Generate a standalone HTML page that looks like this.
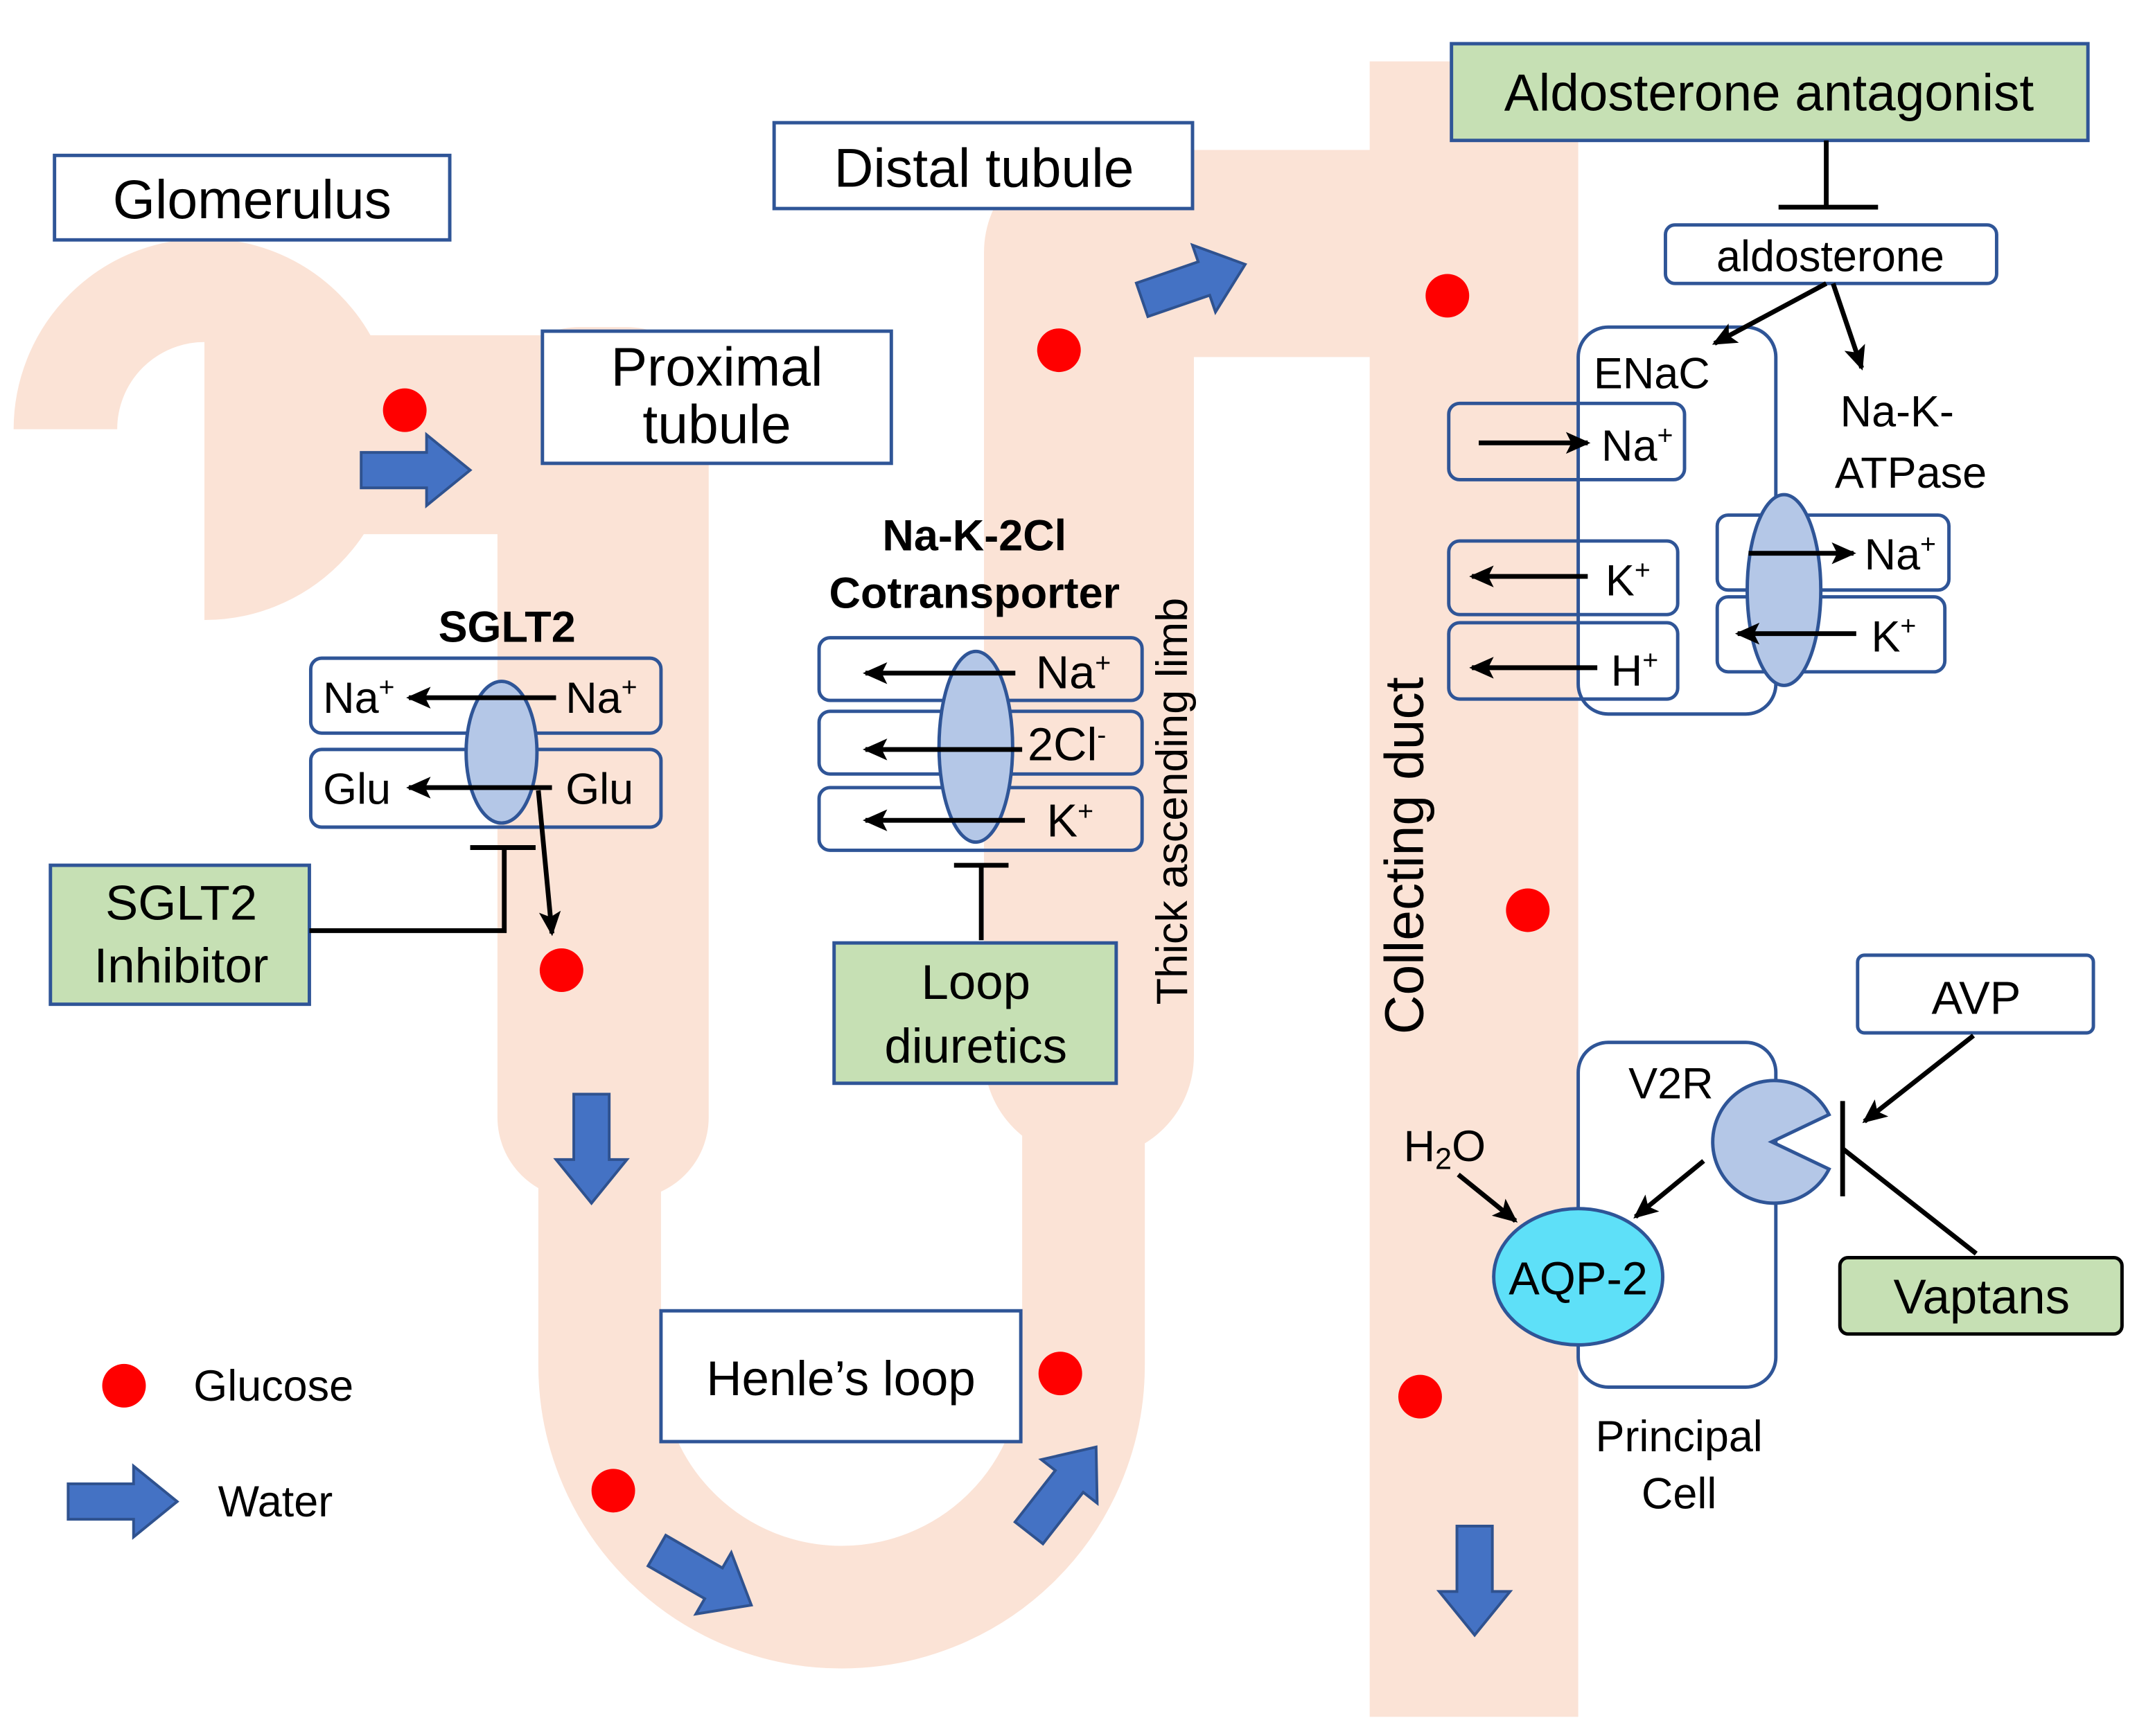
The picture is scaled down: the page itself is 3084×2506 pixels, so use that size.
<!DOCTYPE html>
<html><head><meta charset="utf-8"><style>html,body{margin:0;padding:0;background:#fff}svg{display:block}</style></head>
<body>
<svg width="3084" height="2506" viewBox="0 0 1568 1274" xmlns="http://www.w3.org/2000/svg" font-family="Liberation Sans, Arial, sans-serif">
<defs>
<marker id="a2" markerWidth="18" markerHeight="16" refX="16" refY="8" orient="auto" markerUnits="userSpaceOnUse"><path d="M0,0 L18,8 L0,16 L4,8 z" fill="#000"/></marker>
<g id="ba"><polygon points="0,-13 48,-13 48,-26 80,0 48,26 48,13 0,13" fill="#4472c4" stroke="#2f528f" stroke-width="2"/></g>
</defs>
<g fill="#fbe3d6">
<path d="M48,315 A102,102 0 1 1 150,417" fill="none" stroke="#fbe3d6" stroke-width="76"/>
<rect x="150" y="246" width="300" height="146"/>
<rect x="365" y="240" width="155" height="640" rx="60"/>
<path d="M440,860 L440,1002 A177.5,177.5 0 0 0 795,1002 L795,820" fill="none" stroke="#fbe3d6" stroke-width="90"/>
<rect x="722" y="110" width="154" height="740" rx="75"/>
<rect x="800" y="110" width="210" height="152"/>
<rect x="1005" y="45" width="153" height="1215"/>
</g>
<g fill="#fff" stroke="#2f5597" stroke-width="2.5">
<rect x="40" y="114" width="290" height="62"/>
<rect x="398" y="243" width="256" height="97"/>
<rect x="568" y="90" width="307" height="63"/>
<rect x="485" y="962" width="264" height="96"/>
<rect x="1363" y="701" width="173" height="57" rx="5"/>
<rect x="1222" y="165" width="243" height="43" rx="7"/>
</g>
<g fill="#c6e0b4" stroke="#2f5597" stroke-width="2.5">
<rect x="1065" y="32" width="467" height="71"/>
<rect x="37" y="635" width="190" height="102"/>
<rect x="612" y="692" width="207" height="103"/>
</g>
<rect x="1350" y="923" width="207" height="56" rx="6" fill="#c6e0b4" stroke="#000" stroke-width="2.5"/>
<g fill="none" stroke="#2f5597" stroke-width="2.5">
<rect x="1158" y="240" width="145" height="284" rx="22"/>
<rect x="1158" y="765" width="145" height="253" rx="22"/>
<rect x="1063" y="296" width="173" height="56" rx="8"/>
<rect x="1063" y="397" width="168" height="54" rx="8"/>
<rect x="1063" y="457" width="168" height="56" rx="8"/>
<rect x="1260" y="378" width="170" height="55" rx="8"/>
<rect x="1260" y="438" width="167" height="55" rx="8"/>
<rect x="228" y="483" width="257" height="55" rx="8"/>
<rect x="228" y="550" width="257" height="57" rx="8"/>
<rect x="601" y="468" width="237" height="46" rx="8"/>
<rect x="601" y="522" width="237" height="46" rx="8"/>
<rect x="601" y="578" width="237" height="46" rx="8"/>
</g>
<g fill="#b4c7e7" stroke="#2f5597" stroke-width="2.5">
<ellipse cx="1309" cy="433" rx="27" ry="70"/>
<ellipse cx="368" cy="552" rx="26" ry="52"/>
<ellipse cx="716" cy="548" rx="27" ry="70"/>
<path d="M1300,838 L1342,818 A45,45 0 1 0 1342,858 Z"/>
</g>
<ellipse cx="1158" cy="937" rx="62" ry="50" fill="#5ee0f8" stroke="#2f5597" stroke-width="2.5"/>
<g stroke="#000" stroke-width="3.5" fill="none">
<line x1="1340" y1="103" x2="1340" y2="152"/><line x1="1305" y1="152" x2="1378" y2="152"/>
<line x1="1340" y1="208" x2="1258" y2="252" marker-end="url(#a2)"/>
<line x1="1345" y1="208" x2="1366" y2="270" marker-end="url(#a2)"/>
<line x1="1085" y1="325" x2="1165" y2="325" marker-end="url(#a2)"/>
<line x1="1165" y1="423" x2="1080" y2="423" marker-end="url(#a2)"/>
<line x1="1172" y1="490" x2="1080" y2="490" marker-end="url(#a2)"/>
<line x1="1283" y1="406" x2="1360" y2="406" marker-end="url(#a2)"/>
<line x1="1362" y1="465" x2="1275" y2="465" marker-end="url(#a2)"/>
<line x1="408" y1="512" x2="300" y2="512" marker-end="url(#a2)"/>
<line x1="405" y1="578" x2="300" y2="578" marker-end="url(#a2)"/>
<line x1="395" y1="580" x2="405" y2="685" marker-end="url(#a2)"/>
<polyline points="227,683 370,683 370,622"/><line x1="345" y1="622" x2="393" y2="622"/>
<line x1="745" y1="494" x2="635" y2="494" marker-end="url(#a2)"/>
<line x1="750" y1="550" x2="635" y2="550" marker-end="url(#a2)"/>
<line x1="752" y1="602" x2="635" y2="602" marker-end="url(#a2)"/>
<line x1="720" y1="690" x2="720" y2="635"/><line x1="700" y1="635" x2="740" y2="635"/>
<line x1="1070" y1="862" x2="1112" y2="896" marker-end="url(#a2)"/>
<line x1="1250" y1="852" x2="1200" y2="893" marker-end="url(#a2)"/>
<line x1="1448" y1="760" x2="1368" y2="823" marker-end="url(#a2)"/>
<line x1="1352" y1="808" x2="1352" y2="878"/>
<line x1="1352" y1="843" x2="1450" y2="920"/>
</g>
<g fill="#ff0000">
<circle cx="297" cy="301" r="16"/><circle cx="777" cy="257" r="16"/><circle cx="1062" cy="217" r="16"/>
<circle cx="412" cy="712" r="16"/><circle cx="1121" cy="668" r="16"/><circle cx="778" cy="1008" r="16"/>
<circle cx="450" cy="1094" r="16"/><circle cx="1042" cy="1025" r="16"/><circle cx="91" cy="1017" r="16"/>
</g>
<use href="#ba" transform="translate(265,345)"/>
<use href="#ba" transform="translate(434,803) rotate(90)"/>
<use href="#ba" transform="translate(838,220) rotate(-19)"/>
<use href="#ba" transform="translate(482,1138) rotate(30)"/>
<use href="#ba" transform="translate(755,1125) rotate(-52)"/>
<use href="#ba" transform="translate(1082,1120) rotate(90)"/>
<use href="#ba" transform="translate(50,1102)"/>
<g fill="#000" font-size="40" text-anchor="middle">
<text x="185" y="160">Glomerulus</text>
<text x="526" y="283">Proximal</text><text x="526" y="325">tubule</text>
<text x="722" y="137">Distal tubule</text>
<text x="1298" y="81" font-size="38">Aldosterone antagonist</text>
<text x="1343" y="199" font-size="32">aldosterone</text>
<text x="617" y="1024" font-size="36">Henle’s loop</text>
<text x="133" y="675" font-size="36">SGLT2</text><text x="133" y="721" font-size="36">Inhibitor</text>
<text x="716" y="733" font-size="36">Loop</text><text x="716" y="780" font-size="36">diuretics</text>
<text x="1450" y="744" font-size="34">AVP</text>
<text x="1454" y="964" font-size="36">Vaptans</text>
<g font-size="32">
<text x="1212" y="285">ENaC</text>
<text x="1392" y="313">Na-K-</text><text x="1402" y="358">ATPase</text>
<text x="1232" y="1065">Principal</text><text x="1232" y="1107">Cell</text>
<text x="1226" y="806">V2R</text>
<text x="1158" y="950" font-size="34">AQP-2</text>
<text x="1060" y="852">H<tspan font-size="22" dy="6">2</tspan><tspan dy="-6">O</tspan></text>
</g>
<text x="372" y="471" font-size="32" font-weight="bold">SGLT2</text>
<text x="715" y="404" font-size="32" font-weight="bold">Na-K-2Cl</text>
<text x="715" y="446" font-size="32" font-weight="bold">Cotransporter</text>
</g>
<g fill="#000" font-size="32">
<text x="1175" y="338">Na<tspan font-size="20" dy="-12">+</tspan></text>
<text x="1178" y="437">K<tspan font-size="20" dy="-12">+</tspan></text>
<text x="1182" y="503">H<tspan font-size="20" dy="-12">+</tspan></text>
<text x="1368" y="418">Na<tspan font-size="20" dy="-12">+</tspan></text>
<text x="1373" y="478">K<tspan font-size="20" dy="-12">+</tspan></text>
<text x="237" y="523">Na<tspan font-size="20" dy="-12">+</tspan></text>
<text x="415" y="523">Na<tspan font-size="20" dy="-12">+</tspan></text>
<text x="237" y="590">Glu</text><text x="415" y="590">Glu</text>
<text x="760" y="505" font-size="34">Na<tspan font-size="20" dy="-12">+</tspan></text>
<text x="754" y="558" font-size="34">2Cl<tspan font-size="20" dy="-12">-</tspan></text>
<text x="768" y="614" font-size="34">K<tspan font-size="20" dy="-12">+</tspan></text>
<text x="142" y="1028">Glucose</text>
<text x="160" y="1113">Water</text>
<text transform="translate(1044,628) rotate(-90)" text-anchor="middle" font-size="40">Collecting duct</text>
<text transform="translate(871,588) rotate(-90)" text-anchor="middle" font-size="32">Thick ascending limb</text>
</g>
</svg>
</body></html>
